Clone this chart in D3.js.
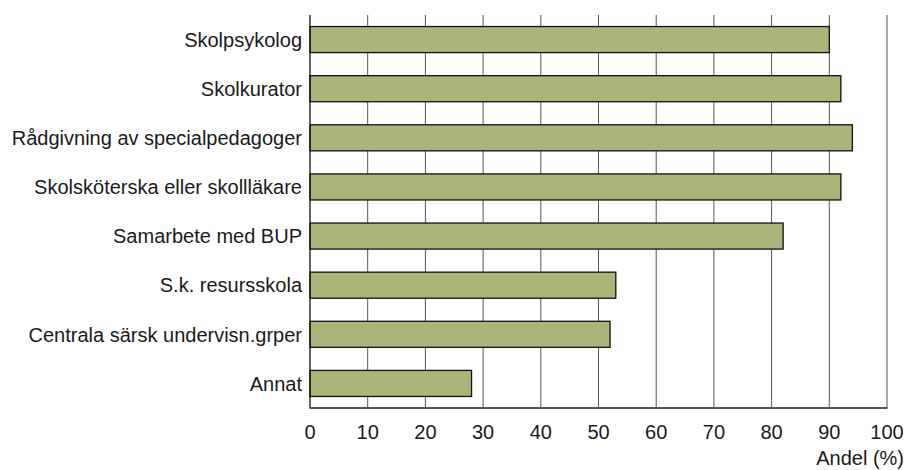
<!DOCTYPE html>
<html>
<head>
<meta charset="utf-8">
<script src="https://cdn.jsdelivr.net/npm/d3@7"></script>
<style>
  body { margin: 0; background: #fff; }
  svg text { font-family: "Liberation Sans", Arial, sans-serif; fill: #1a1a1a; }
</style>
</head>
<body>
<div id="chart"></div>
<script>
const categories = [
  "Skolpsykolog",
  "Skolkurator",
  "Rådgivning av specialpedagoger",
  "Skolsköterska eller skollläkare",
  "Samarbete med BUP",
  "S.k. resursskola",
  "Centrala särsk undervisn.grper",
  "Annat"
]
const values = [90, 92, 94, 92, 82, 53, 52, 28]
const ticks = [0, 10, 20, 30, 40, 50, 60, 70, 80, 90, 100]

const width = 908, height = 470
const margin = { top: 15, right: 21, bottom: 62, left: 310 }

let svg = d3.select("#chart").append("svg")
  .attr("width", width)
  .attr("height", height)

let x = d3.scaleLinear()
  .domain([0, 100])
  .range([margin.left, width - margin.right])

let y = d3.scaleBand()
  .domain(categories)
  .range([margin.top, height - margin.bottom])
  .paddingInner(0.47)
  .paddingOuter(0.235)

// gridlines
svg.append("g")
  .selectAll("line")
  .data(ticks.slice(1))
  .enter().append("line")
  .attr("x1", d => x(d)).attr("x2", d => x(d))
  .attr("y1", margin.top).attr("y2", height - margin.bottom)
  .attr("stroke", "#555")
  .attr("stroke-width", 1)

// bars
svg.append("g")
  .selectAll("rect")
  .data(values)
  .enter().append("rect")
  .attr("x", x(0))
  .attr("y", (d, i) => y(categories[i]))
  .attr("width", d => x(d) - x(0))
  .attr("height", y.bandwidth())
  .attr("fill", "#abb57a")
  .attr("stroke", "#111")
  .attr("stroke-width", 1.3)

// y axis line
svg.append("line")
  .attr("x1", x(0)).attr("x2", x(0))
  .attr("y1", margin.top).attr("y2", height - margin.bottom)
  .attr("stroke", "#111")
  .attr("stroke-width", 1.3)

// x axis line
svg.append("line")
  .attr("x1", x(0) - 0.5).attr("x2", x(100) + 0.5)
  .attr("y1", height - margin.bottom).attr("y2", height - margin.bottom)
  .attr("stroke", "#555")
  .attr("stroke-width", 2)

// category labels
svg.append("g")
  .selectAll("text")
  .data(categories)
  .enter().append("text")
  .attr("x", x(0) - 8)
  .attr("y", d => y(d) + y.bandwidth() / 2)
  .attr("dy", "0.36em")
  .attr("text-anchor", "end")
  .attr("font-size", 20)
  .text(d => d)

// tick labels
svg.append("g")
  .selectAll("text")
  .data(ticks)
  .enter().append("text")
  .attr("x", d => x(d))
  .attr("y", 439)
  .attr("text-anchor", "middle")
  .attr("font-size", 20)
  .text(d => d)

svg.append("text")
  .attr("x", 904)
  .attr("y", 465)
  .attr("text-anchor", "end")
  .attr("font-size", 20)
  .text("Andel (%)")
</script>
</body>
</html>
